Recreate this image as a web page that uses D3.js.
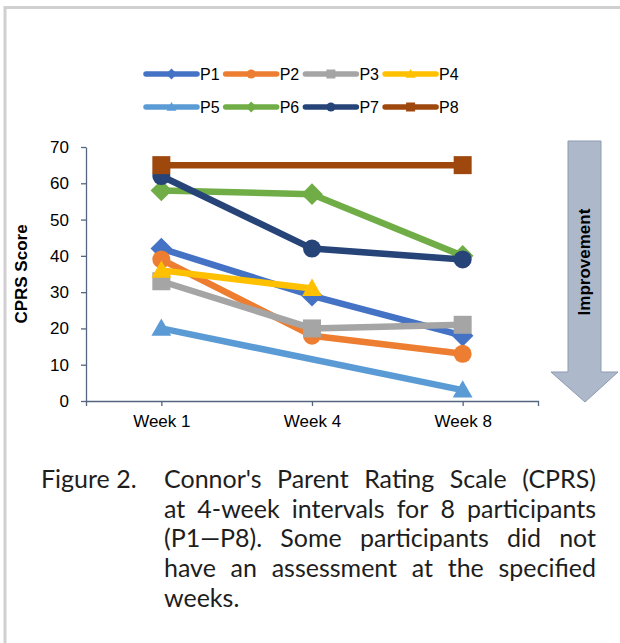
<!DOCTYPE html>
<meta charset="utf-8">
<body style="margin:0;background:#fff">
<script src="https://d3js.org/d3.v7.min.js" charset="utf-8"></script>
<style type="text/css">
  .axis text {
    font-family: "Liberation Sans", Arial, sans-serif;
    font-size: 17px;
    fill: #000;
  }
  .axis path, .axis line {
    stroke: #55657f;
    stroke-width: 1.3;
  }
  .title {
    font-family: "Liberation Sans", Arial, sans-serif;
    font-size: 17px;
    font-weight: bold;
  }
  .legend text {
    font-family: "Liberation Sans", Arial, sans-serif;
    font-size: 16px;
  }
  .caption {
    font-family: Lato, "Open Sans", sans-serif;
    font-size: 25px;
    fill: #1e1e1e;
  }
</style>
<script>
var width = 620;
var height = 643;

// data
var weeks = ["Week 1", "Week 4", "Week 8"];
var participants = ["P1", "P2", "P3", "P4", "P5", "P6", "P7", "P8"];
var p1 = [42, 29, 18];
var p2 = [39, 18, 13];
var p3 = [33, 20, 21];
var p4 = [36, 31, null];
var p5 = [20, null, 3];
var p6 = [58, 57, 40];
var p7 = [62, 42, 39];
var p8 = [65, null, 65];
var yTicks = [0, 10, 20, 30, 40, 50, 60, 70];

var scores = [p1, p2, p3, p4, p5, p6, p7, p8];
var colors = ["#4472C4", "#ED7D31", "#A5A5A5", "#FFC000", "#5B9BD5", "#70AD47", "#264478", "#9E480E"];
var shapes = ["diamond", "circle", "square", "triangle", "triangle", "diamond", "circle", "square"];

var captionLabel = "Figure 2.";
var captionLines = [
  "Connor's Parent Rating Scale (CPRS)",
  "at 4-week intervals for 8 participants",
  "(P1\u2014P8). Some participants did not",
  "have an assessment at the specified",
  "weeks."
];

var svg = d3.select("body")
            .append("svg")
            .attr("width", width)
            .attr("height", height);

// page frame
svg.append("path")
   .attr("d", "M5,643 V7.5 H620")
   .attr("fill", "none")
   .attr("stroke", "#d0d0d0")
   .attr("stroke-width", 3);

var x = d3.scalePoint()
          .domain(weeks)
          .range([86, 538])
          .padding(0.5);

var y = d3.scaleLinear()
          .domain([0, 70])
          .range([401, 147]);

svg.append("g")
   .attr("class", "axis")
   .attr("transform", "translate(0,401)")
   .call(d3.axisBottom(x).tickSize(5).tickSizeOuter(5).tickPadding(9));

svg.append("g")
   .attr("class", "axis")
   .attr("transform", "translate(86,0)")
   .call(d3.axisLeft(y).tickValues(yTicks).tickSize(5).tickSizeOuter(0).tickPadding(12));

svg.append("text")
   .attr("class", "title")
   .attr("transform", "translate(27,274) rotate(-90)")
   .attr("text-anchor", "middle")
   .text("CPRS Score");

function markerPath(shape, s) {
  var h = s / 2;
  if (shape == "circle") {
    return "M" + (-h) + ",0A" + h + "," + h + " 0 1,0 " + h + ",0A" + h + "," + h + " 0 1,0 " + (-h) + ",0Z";
  }
  if (shape == "square") {
    return "M" + (-h) + "," + (-h) + "H" + h + "V" + h + "H" + (-h) + "Z";
  }
  if (shape == "diamond") {
    var d = h * 1.2;
    return "M0," + (-d) + "L" + d + ",0L0," + d + "L" + (-d) + ",0Z";
  }
  // triangle, point up
  var t = h * 1.1;
  return "M0," + (-t) + "L" + t + "," + (t * 0.75) + "L" + (-t) + "," + (t * 0.75) + "Z";
}

var line = d3.line()
             .x(function(d) { return x(d.week); })
             .y(function(d) { return y(d.value); });

participants.forEach(function(p, i) {
  var pts = weeks.map(function(w, j) { return {week: w, value: scores[i][j]}; })
                 .filter(function(d) { return d.value != null; });
  var g = svg.append("g");
  g.append("path")
   .attr("d", line(pts))
   .attr("fill", "none")
   .attr("stroke", colors[i])
   .attr("stroke-width", 6.5)
   .attr("stroke-linecap", "round")
   .attr("stroke-linejoin", "round");
  g.selectAll("path.mark")
   .data(pts)
   .enter()
   .append("path")
   .attr("class", "mark")
   .attr("transform", function(d) { return "translate(" + x(d.week) + "," + y(d.value) + ")"; })
   .attr("d", markerPath(shapes[i], 18))
   .attr("fill", colors[i]);
});

// legend
var legend = svg.append("g").attr("class", "legend");
participants.forEach(function(p, i) {
  var lx = 146 + (i % 4) * 79.7;
  var ly = i < 4 ? 74 : 107;
  var g = legend.append("g").attr("transform", "translate(" + lx + "," + ly + ")");
  g.append("line")
   .attr("x1", 0).attr("x2", 51)
   .attr("stroke", colors[i])
   .attr("stroke-width", 5.5)
   .attr("stroke-linecap", "round");
  g.append("path")
   .attr("transform", "translate(25.5,0)")
   .attr("d", markerPath(shapes[i], 9))
   .attr("fill", colors[i]);
  g.append("text")
   .attr("x", 54)
   .attr("dy", "0.36em")
   .text(p);
});

// improvement arrow
svg.append("path")
   .attr("d", "M568,141H601V372H618L585,402L551,372H568Z")
   .attr("fill", "#ADB9CA")
   .attr("stroke", "#8e9bb0")
   .attr("stroke-width", 1);

svg.append("text")
   .attr("class", "title")
   .attr("transform", "translate(590,262) rotate(-90)")
   .attr("text-anchor", "middle")
   .text("Improvement");

// caption, justified
svg.append("text")
   .attr("class", "caption")
   .attr("x", 41)
   .attr("y", 488)
   .text(captionLabel);

// measure each word on its own, then spread the words across the line
var measure = svg.append("text").attr("class", "caption").attr("opacity", 0);
function wordWidth(w) {
  measure.text(w);
  return measure.node().getComputedTextLength();
}

var left = 164, right = 596;
captionLines.forEach(function(txt, i) {
  var ty = 488 + i * 29.7;
  var words = txt.split(" ");
  var widths = words.map(wordWidth);
  var total = d3.sum(widths);
  var last = i == captionLines.length - 1;
  var gap = (last || words.length < 2) ? 6 : (right - left - total) / (words.length - 1);
  var cx = left;
  words.forEach(function(w, j) {
    svg.append("text")
       .attr("class", "caption")
       .attr("x", cx)
       .attr("y", ty)
       .text(w);
    cx += widths[j] + gap;
  });
});
measure.remove();
</script>
</body>
</html>
